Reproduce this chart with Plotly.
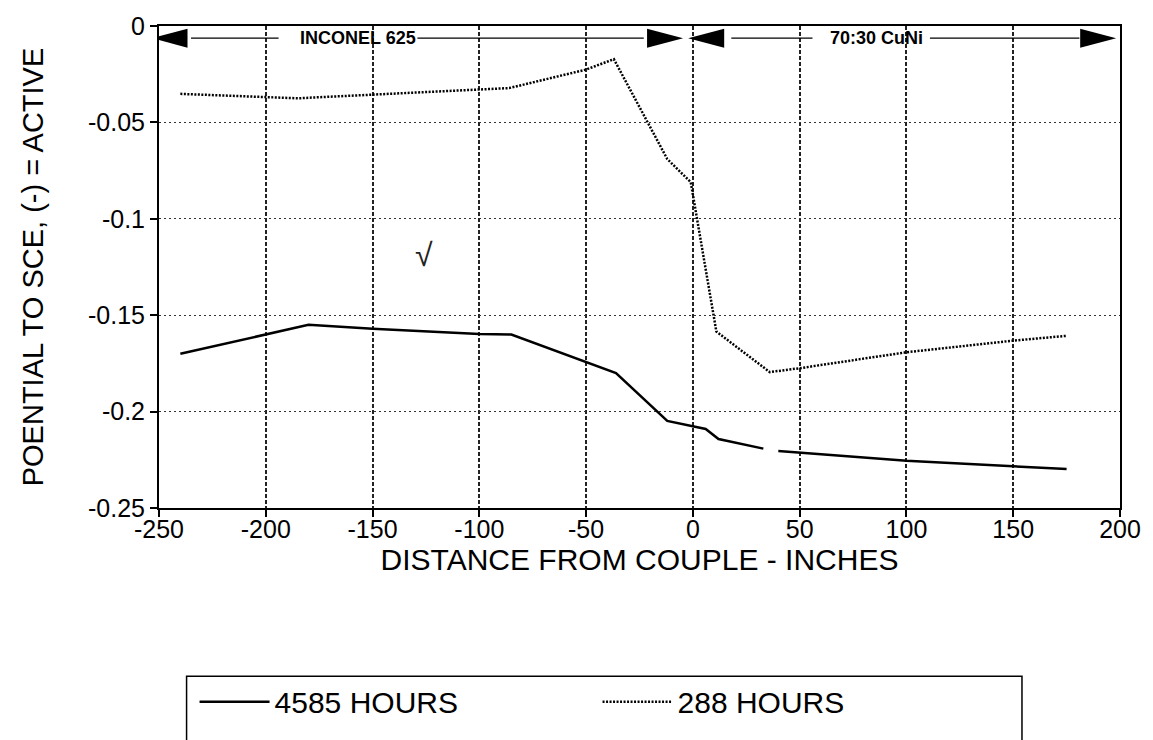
import plotly.graph_objects as go

# ---- data -------------------------------------------------------------
# Distance from the galvanic couple (inches) and potential vs SCE (V)
dist_4585 = [-240, -180, -150, -100, -85, -50, -36, -12, 0, 6, 12, 33, None, 40, 100, 175]
pot_4585 = [-0.170, -0.155, -0.157, -0.1597, -0.160, -0.1743, -0.180, -0.2048,
             -0.2078, -0.209, -0.2142, -0.2192, None, -0.2205, -0.2255, -0.2298]

dist_288 = [-240, -185, -150, -100, -86, -50, -37, -12, -1, 11, 36, 50, 100, 150, 175]
pot_288 = [-0.0352, -0.0375, -0.0356, -0.0330, -0.0322, -0.0226, -0.0172, -0.0690,
           -0.0810, -0.1585, -0.1795, -0.1775, -0.1692, -0.1632, -0.1607]

series_names = ["4585 HOURS", "288 HOURS"]

x_tickvals = [-250, -200, -150, -100, -50, 0, 50, 100, 150, 200]
x_ticktext = ["-250", "-200", "-150", "-100", "-50", "0", "50", "100", "150", "200"]
y_tickvals = [0, -0.05, -0.1, -0.15, -0.2, -0.25]
y_ticktext = ["0", "-0.05", "-0.1", "-0.15", "-0.2", "-0.25"]

# material regions along the pipe: label, label centre, arrow tips, line pieces
region_labels = ["INCONEL 625", "70:30 CuNi"]
region_label_x = [-157, 86]
region_tips = [(-253.5, -4.6), (-2.2, 198.2)]
region_lines = [[(-235, -194), (-129, -23)], [(18, 56), (111, 181)]]
REGION_Y = -0.0063

FONT = "Liberation Sans, Arial, Helvetica, sans-serif"

fig = go.Figure()
fig.add_trace(go.Scatter(x=dist_4585, y=pot_4585, name=series_names[0], mode="lines",
                         line=dict(color="black", width=2.5), connectgaps=False))
fig.add_trace(go.Scatter(x=dist_288, y=pot_288, name=series_names[1], mode="lines",
                         line=dict(color="black", width=2.5, dash="2px,1.5px")))

shapes = []
annotations = []
for label, lx, (t0, t1), pieces in zip(region_labels, region_label_x, region_tips, region_lines):
    # left-pointing and right-pointing filled arrowheads
    shapes.append(dict(type="path", xref="x", yref="y", xsizemode="pixel", ysizemode="pixel",
                       xanchor=t0, yanchor=REGION_Y, path="M0,0 L36,9.5 L36,-9.5 Z",
                       fillcolor="black", line=dict(width=0)))
    shapes.append(dict(type="path", xref="x", yref="y", xsizemode="pixel", ysizemode="pixel",
                       xanchor=t1, yanchor=REGION_Y, path="M0,0 L-36,9.5 L-36,-9.5 Z",
                       fillcolor="black", line=dict(width=0)))
    for a, b in pieces:
        shapes.append(dict(type="line", xref="x", yref="y", x0=a, x1=b, y0=REGION_Y, y1=REGION_Y,
                           line=dict(color="black", width=1.3)))
    annotations.append(dict(x=lx, y=REGION_Y, xref="x", yref="y", text=label, showarrow=False,
                            font=dict(family=FONT, size=18, color="black", weight="bold")))

# hand-written check mark on the sheet
annotations.append(dict(x=-126, y=-0.119, xref="x", yref="y", text="√", showarrow=False,
                        font=dict(family=FONT, size=32, color="#222")))

# legend frame
shapes.append(dict(type="rect", xref="paper", yref="paper", x0=0.0287, x1=0.898,
                   y0=-0.52, y1=-0.349, line=dict(color="black", width=1.5),
                   fillcolor="rgba(0,0,0,0)"))

fig.update_layout(
    width=1153, height=740,
    margin=dict(l=159, r=33, t=22, b=231),
    paper_bgcolor="white", plot_bgcolor="white",
    font=dict(family=FONT, color="black"),
    shapes=shapes, annotations=annotations,
    showlegend=True,
    legend=dict(orientation="h", x=0.037, y=-0.402, xanchor="left", yanchor="middle",
                itemwidth=70, entrywidth=318, font=dict(family=FONT, size=30, color="black"),
                bgcolor="rgba(0,0,0,0)", borderwidth=0, traceorder="normal"),
)

fig.update_xaxes(
    range=[-250, 200], tickvals=x_tickvals, ticktext=x_ticktext,
    showline=True, linecolor="black", linewidth=2, mirror=True,
    ticks="outside", ticklen=7, tickwidth=1.5, tickcolor="black",
    tickfont=dict(family=FONT, size=25, color="black"), ticklabelstandoff=-9,
    showgrid=True, gridcolor="#222", gridwidth=1.5, griddash="4px,2px",
    zeroline=False,
    title=dict(text="DISTANCE FROM COUPLE - INCHES", font=dict(family=FONT, size=30, color="black"),
               standoff=0),
)
fig.update_yaxes(
    range=[-0.25, 0], tickvals=y_tickvals, ticktext=y_ticktext,
    showline=True, linecolor="black", linewidth=2, mirror=True,
    ticks="outside", ticklen=7, tickwidth=1.5, tickcolor="black",
    tickfont=dict(family=FONT, size=25, color="black"),
    showgrid=True, gridcolor="#333", gridwidth=1.2, griddash="2px,3px",
    zeroline=False,
    title=dict(text="POENTIAL TO SCE, (-) = ACTIVE", font=dict(family=FONT, size=29, color="black"),
               standoff=36),
)

fig.write_html("out.html")
